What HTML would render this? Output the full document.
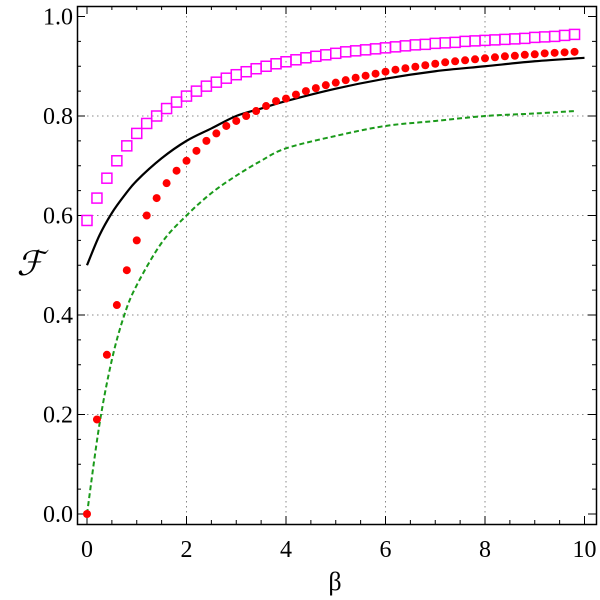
<!DOCTYPE html>
<html><head><meta charset="utf-8"><style>
html,body{margin:0;padding:0;background:#fff;}
svg{display:block;}
text{font-family:"Liberation Serif","Times New Roman",serif;}
</style></head><body>
<svg id="chart" width="600" height="600" viewBox="0 0 600 600">
<g id="grid"></g>
<g id="ticks"></g>
<g id="series"></g>
<rect x="77.5" y="6.5" width="519" height="518" fill="none" stroke="#000" stroke-width="1.5"/>
<text x="335" y="590" font-size="26" text-anchor="middle">β</text>
<text x="30" y="275" font-size="34" font-style="italic" text-anchor="middle" style="font-family:'DejaVu Serif',serif">ℱ</text>
</svg>
<script>
const xTicks=[0,2,4,6,8,10];
const yTicks=[0.0,0.2,0.4,0.6,0.8,1.0];
const yTickLabels=["0.0","0.2","0.4","0.6","0.8","1.0"];
const lineBeta=[0,0.25,0.5,0.75,1,1.5,2,2.5,3,3.5,4,5,6,7,8,9,10];
const blackLine=[0.5,0.56,0.605,0.64,0.67,0.715,0.75,0.775,0.80,0.815,0.83,0.855,0.875,0.89,0.90,0.91,0.917];
const greenBeta=[0,0.25,0.5,0.75,1,1.5,2,2.5,3,3.5,4,5,6,7,8,9,9.8];
const greenLine=[0,0.18,0.31,0.40,0.46,0.545,0.60,0.645,0.68,0.71,0.735,0.76,0.78,0.79,0.80,0.805,0.81];
const pointBeta=Array.from({length:50},(_, i)=>+(i*0.2).toFixed(1));
const redDots=[0,0.19,0.32,0.42,0.49,0.55,0.60,0.635,0.665,0.69,0.71,0.73,0.75,0.765,0.78,0.79,0.80,0.81,0.82,0.83,0.835,0.843,0.85,0.856,0.862,0.867,0.872,0.877,0.881,0.885,0.889,0.893,0.896,0.899,0.902,0.905,0.908,0.91,0.912,0.914,0.916,0.918,0.92,0.921,0.923,0.924,0.926,0.927,0.928,0.929];
const magentaSquares=[0.59,0.635,0.675,0.71,0.74,0.765,0.785,0.80,0.815,0.828,0.84,0.85,0.86,0.868,0.876,0.883,0.889,0.895,0.9,0.905,0.909,0.913,0.917,0.92,0.923,0.926,0.929,0.931,0.933,0.935,0.937,0.939,0.941,0.943,0.944,0.946,0.947,0.948,0.95,0.951,0.952,0.953,0.954,0.955,0.956,0.958,0.959,0.96,0.962,0.964];

const NS="http://www.w3.org/2000/svg";
const X=v=>87+v*49.75;
const Y=v=>514-v*497.5;
function mk(tag,attrs,parent){const e=document.createElementNS(NS,tag);for(const k in attrs)e.setAttribute(k,attrs[k]);parent.appendChild(e);return e;}
function smooth(xs,ys){let p=xs.map((b,i)=>[X(b),Y(ys[i])]);let d='M'+p[0][0]+','+p[0][1];
  for(let i=0;i<p.length-1;i++){const p0=p[Math.max(i-1,0)],p1=p[i],p2=p[i+1],p3=p[Math.min(i+2,p.length-1)];
  d+=` C${p1[0]+(p2[0]-p0[0])/6},${p1[1]+(p2[1]-p0[1])/6} ${p2[0]-(p3[0]-p1[0])/6},${p2[1]-(p3[1]-p1[1])/6} ${p2[0]},${p2[1]}`;}return d;}
const grid=document.getElementById('grid'),ticks=document.getElementById('ticks'),series=document.getElementById('series');
xTicks.forEach(t=>{
  if(t>0&&t<10){const g=mk('line',{x1:X(t),x2:X(t),y1:6,y2:524,stroke:'#888','stroke-dasharray':'1.5 3.5'},grid);
  
  }
  const l=mk('text',{x:X(t),y:557,'font-size':24,'text-anchor':'middle'},ticks);l.textContent=t;
  
  
});
yTicks.forEach((t,i)=>{
  if(t>0&&t<1){const g=mk('line',{x1:77,x2:596,y1:Y(t),y2:Y(t),stroke:'#888','stroke-dasharray':'1.5 3.5'},grid);
  
  }
  const l=mk('text',{x:73,y:Y(t)+8,'font-size':24,'text-anchor':'end'},ticks);l.textContent=yTickLabels[i];
  
  
});
for(let v=0;v<=10.01;v+=0.5){const major=Math.abs(v/2-Math.round(v/2))<1e-6;const len=major?8:4;
  mk('line',{x1:X(v),x2:X(v),y1:524,y2:524-len,stroke:'#000'},ticks);
  mk('line',{x1:X(v),x2:X(v),y1:6,y2:6+len,stroke:'#000'},ticks);}
for(let v=0;v<=1.001;v+=0.05){const major=Math.abs(v*5-Math.round(v*5))<1e-6;const len=major?8:4;
  mk('line',{x1:77,x2:77+len,y1:Y(v),y2:Y(v),stroke:'#000'},ticks);
  mk('line',{x1:596,x2:596-len,y1:Y(v),y2:Y(v),stroke:'#000'},ticks);}
const bl=mk('path',{d:smooth(lineBeta,blackLine),fill:'none',stroke:'#000','stroke-width':2.2},series);


const gl=mk('path',{d:smooth(greenBeta,greenLine),fill:'none',stroke:'#1a9a1a','stroke-width':2,'stroke-dasharray':'5 3'},series);


pointBeta.forEach((b,i)=>{
  const s=mk('rect',{x:X(b)-5,y:Y(magentaSquares[i])-5,width:10,height:10,fill:'none',stroke:'#ff00ff','stroke-width':1.5},series);
  
  
  const c=mk('circle',{cx:X(b),cy:Y(redDots[i]),r:4,fill:'#ff0000'},series);
  
  
});
</script>
</body></html>
